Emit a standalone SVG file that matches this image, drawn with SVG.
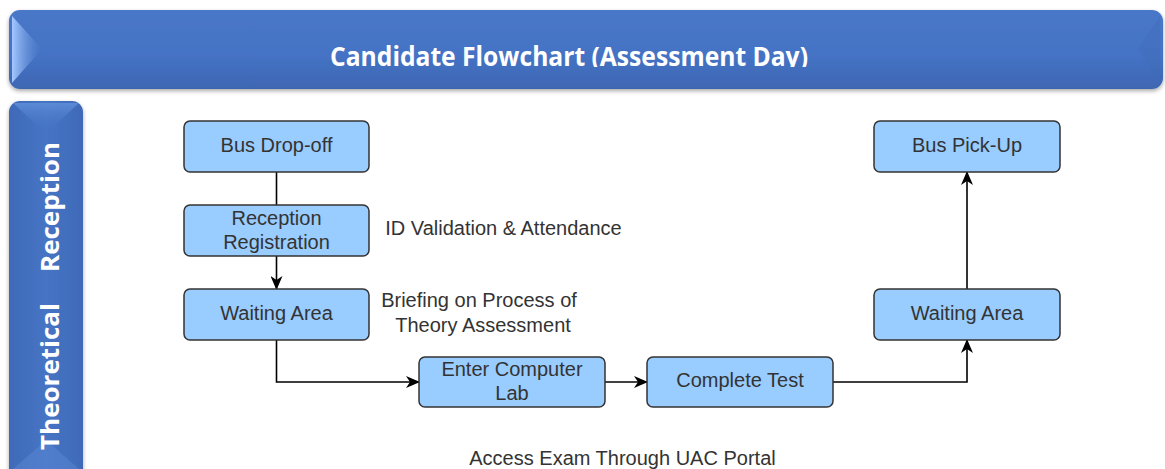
<svg xmlns="http://www.w3.org/2000/svg" width="1165" height="469" viewBox="0 0 1165 469">
<defs>
  <linearGradient id="hdr" x1="0" y1="0" x2="0" y2="1">
    <stop offset="0" stop-color="#4a78c8"/>
    <stop offset="0.6" stop-color="#4472c4"/>
    <stop offset="1" stop-color="#3e66b2"/>
  </linearGradient>
  <linearGradient id="side" x1="0" y1="0" x2="1" y2="0">
    <stop offset="0" stop-color="#3f6ab8"/>
    <stop offset="0.5" stop-color="#4674c4"/>
    <stop offset="1" stop-color="#3f6ab8"/>
  </linearGradient>
  <linearGradient id="bevL" x1="0" y1="0" x2="1" y2="0">
    <stop offset="0" stop-color="#a5c8ff"/>
    <stop offset="1" stop-color="#4a78c8" stop-opacity="0.2"/>
  </linearGradient>
  <linearGradient id="bevT" x1="0" y1="0" x2="0" y2="1">
    <stop offset="0" stop-color="#5b8ad6"/>
    <stop offset="1" stop-color="#4472c4" stop-opacity="0"/>
  </linearGradient>
  <filter id="sh" x="-5%" y="-20%" width="110%" height="150%">
    <feGaussianBlur in="SourceAlpha" stdDeviation="2"/>
    <feOffset dx="0" dy="2" result="b"/>
    <feComponentTransfer><feFuncA type="linear" slope="0.35"/></feComponentTransfer>
    <feMerge><feMergeNode/><feMergeNode in="SourceGraphic"/></feMerge>
  </filter>
  <clipPath id="titleClip"><rect x="0" y="0" width="1165" height="67"/></clipPath>
  <marker id="arr" viewBox="0 0 14 12" refX="13" refY="6" markerWidth="14" markerHeight="12" markerUnits="userSpaceOnUse" orient="auto">
    <path d="M0,0 L14,6 L0,12 L4,6 z" fill="#000"/>
  </marker>
  <style>
    .node rect { fill: #99ccff; stroke: #333333; stroke-width: 1.5; }
    .node text, .lbl { font-family: "Liberation Sans", Arial, sans-serif; font-size: 20px; fill: #333333; text-anchor: middle; }
    .conn path { fill: none; stroke: #000; stroke-width: 1.6; }
    .band { font-family: "Open Sans", "DejaVu Sans", sans-serif; font-weight: bold; fill: #ffffff; }
  </style>
</defs>

<g id="header">
  <rect x="9" y="10" width="1154" height="79" rx="11" fill="url(#hdr)" filter="url(#sh)"/>
  <path d="M12,16 L42,49 L12,83 Z" fill="url(#bevL)"/>
  <path d="M1160,16 L1138,49 L1160,83 Z" fill="#3f69b6" opacity="0.35"/>
  <text class="band" x="569" y="66" font-size="26" text-anchor="middle" textLength="478" lengthAdjust="spacingAndGlyphs" clip-path="url(#titleClip)">Candidate Flowchart (Assessment Day)</text>
</g>

<g id="sidebar">
  <rect x="9" y="101" width="74" height="380" rx="11" fill="url(#side)" filter="url(#sh)"/>
  <path d="M13,103 L46,134 L79,103 Z" fill="url(#bevT)"/>
  <path d="M13,469 L46,440 L79,469 Z" fill="#5a88d4" opacity="0.5"/>
  <text class="band" transform="translate(59,450) rotate(-90)" font-size="25">
    <tspan x="0" y="0" textLength="147" lengthAdjust="spacingAndGlyphs">Theoretical</tspan>
    <tspan x="178" y="0" textLength="130" lengthAdjust="spacingAndGlyphs">Reception</tspan>
  </text>
</g>

<g id="connectors" class="conn">
  <path d="M276.5,172 V205"/>
  <path d="M276.5,256 V289" marker-end="url(#arr)"/>
  <path d="M276.5,340 V382 H419" marker-end="url(#arr)"/>
  <path d="M605,382 H647" marker-end="url(#arr)"/>
  <path d="M833,382 H967 V340" marker-end="url(#arr)"/>
  <path d="M967,289 V172" marker-end="url(#arr)"/>
</g>

<g id="bus-dropoff" class="node">
  <rect x="184" y="121" width="185" height="51" rx="6"/>
  <text x="276.5" y="152">Bus Drop-off</text>
</g>
<g id="reception-registration" class="node">
  <rect x="184" y="205" width="185" height="51" rx="6"/>
  <text x="276.5" y="225">Reception</text>
  <text x="276.5" y="249">Registration</text>
</g>
<g id="waiting-area-1" class="node">
  <rect x="184" y="289" width="185" height="51" rx="6"/>
  <text x="276.5" y="319.5">Waiting Area</text>
</g>
<g id="enter-computer-lab" class="node">
  <rect x="419" y="357" width="186" height="50" rx="6"/>
  <text x="512" y="375.5">Enter Computer</text>
  <text x="512" y="400">Lab</text>
</g>
<g id="complete-test" class="node">
  <rect x="647" y="357" width="186" height="50" rx="6"/>
  <text x="740" y="387">Complete Test</text>
</g>
<g id="waiting-area-2" class="node">
  <rect x="874" y="289" width="186" height="51" rx="6"/>
  <text x="967" y="319.5">Waiting Area</text>
</g>
<g id="bus-pickup" class="node">
  <rect x="874" y="121" width="186" height="51" rx="6"/>
  <text x="967" y="152">Bus Pick-Up</text>
</g>

<g id="labels">
  <text class="lbl" x="503.5" y="235">ID Validation &amp; Attendance</text>
  <text class="lbl" x="479" y="307">Briefing on Process of</text>
  <text class="lbl" x="483" y="332">Theory Assessment</text>
  <text class="lbl" x="622.5" y="465">Access Exam Through UAC Portal</text>
</g>
</svg>
